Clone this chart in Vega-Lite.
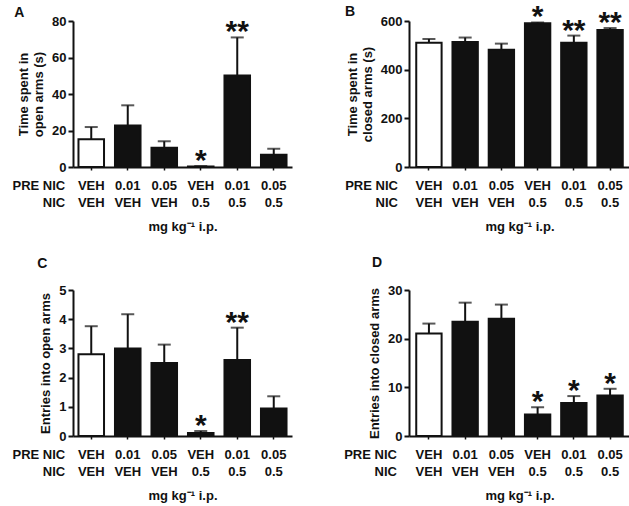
{
  "$schema": "https://vega.github.io/schema/vega-lite/v6.json",
  "padding": {"left": 12, "top": 2, "right": 0, "bottom": 0},
  "background": "white",
  "bounds": "flush",
  "config": {
    "font": "Liberation Sans",
    "view": {"stroke": null},
    "axis": {"labelFont": "Liberation Sans", "labelFontWeight": "bold", "labelFontSize": 13, "labelColor": "#111", "titleFont": "Liberation Sans", "titleFontWeight": "bold", "titleFontSize": 13, "titleColor": "#111", "domainColor": "#111", "domainWidth": 2, "tickColor": "#111", "tickWidth": 2, "grid": false, "labelOverlap": false},
    "axisX": {"labelAngle": 0, "tickSize": 3, "tickWidth": 1.5, "labelPadding": 9.5, "labelLineHeight": 17.4, "titlePadding": 11, "labelBaseline": "top"},
    "axisY": {"tickSize": 5, "labelPadding": 2, "titlePadding": 6, "titleLineHeight": 15, "labelOverlap": false},
    "text": {"font": "Liberation Sans", "fontWeight": "bold", "color": "#111"}
  },
  "datasets": {
    "A": [
      {"cat": "VEH|VEH", "g": "veh", "mean": 15.2, "upper": 21.9, "star": ""},
      {"cat": "0.01|VEH", "g": "drug", "mean": 22.8, "upper": 33.8, "star": ""},
      {"cat": "0.05|VEH", "g": "drug", "mean": 10.6, "upper": 14.1, "star": ""},
      {"cat": "VEH|0.5", "g": "drug", "mean": 0.3, "upper": 0.5, "star": "*"},
      {"cat": "0.01|0.5", "g": "drug", "mean": 50.2, "upper": 71.0, "star": "**"},
      {"cat": "0.05|0.5", "g": "drug", "mean": 6.7, "upper": 10.0, "star": ""}
    ],
    "B": [
      {"cat": "VEH|VEH", "g": "veh", "mean": 511, "upper": 526, "star": ""},
      {"cat": "0.01|VEH", "g": "drug", "mean": 514, "upper": 532, "star": ""},
      {"cat": "0.05|VEH", "g": "drug", "mean": 482, "upper": 507, "star": ""},
      {"cat": "VEH|0.5", "g": "drug", "mean": 591, "upper": 594, "star": "*"},
      {"cat": "0.01|0.5", "g": "drug", "mean": 511, "upper": 540, "star": "**"},
      {"cat": "0.05|0.5", "g": "drug", "mean": 563, "upper": 571, "star": "**"}
    ],
    "C": [
      {"cat": "VEH|VEH", "g": "veh", "mean": 2.8, "upper": 3.76, "star": ""},
      {"cat": "0.01|VEH", "g": "drug", "mean": 3.0, "upper": 4.17, "star": ""},
      {"cat": "0.05|VEH", "g": "drug", "mean": 2.5, "upper": 3.13, "star": ""},
      {"cat": "VEH|0.5", "g": "drug", "mean": 0.1, "upper": 0.17, "star": "*"},
      {"cat": "0.01|0.5", "g": "drug", "mean": 2.6, "upper": 3.71, "star": "**"},
      {"cat": "0.05|0.5", "g": "drug", "mean": 0.94, "upper": 1.36, "star": ""}
    ],
    "D": [
      {"cat": "VEH|VEH", "g": "veh", "mean": 21.05, "upper": 23.1, "star": ""},
      {"cat": "0.01|VEH", "g": "drug", "mean": 23.5, "upper": 27.4, "star": ""},
      {"cat": "0.05|VEH", "g": "drug", "mean": 24.1, "upper": 27.0, "star": ""},
      {"cat": "VEH|0.5", "g": "drug", "mean": 4.4, "upper": 5.9, "star": "*"},
      {"cat": "0.01|0.5", "g": "drug", "mean": 6.8, "upper": 8.2, "star": "*"},
      {"cat": "0.05|0.5", "g": "drug", "mean": 8.3, "upper": 9.7, "star": "*"}
    ]
  },
  "columns": 2,
  "spacing": {"row": 123, "column": 117},
  "concat": [
    {
      "width": 219, "height": 146,
      "data": {"name": "A"},
      "encoding": {"x": {"field": "cat", "type": "nominal", "sort": null, "scale": {"paddingInner": 0.3, "paddingOuter": 0.15}, "axis": {"title": "mg kg⁻¹ i.p.", "labelExpr": "split(datum.label, '|')"}}},
      "layer": [
        {"mark": {"type": "rule", "strokeWidth": 2, "color": "#111"}, "encoding": {"y": {"field": "mean", "type": "quantitative", "scale": {"domain": [0, 80], "nice": false}, "axis": {"values": [0, 20, 40, 60, 80], "tickCount": 5, "labelOverlap": false, "title": ["Time spent in", "open arms (s)"]}}, "y2": {"field": "upper"}}},
        {"mark": {"type": "tick", "thickness": 2, "size": 13, "color": "#111"}, "encoding": {"y": {"field": "upper", "type": "quantitative", "axis": {"values": [0, 20, 40, 60, 80], "tickCount": 5, "labelOverlap": false, "title": ["Time spent in", "open arms (s)"]}}}},
        {"mark": {"type": "bar", "stroke": "#111", "strokeWidth": 2}, "encoding": {"y": {"field": "mean", "type": "quantitative", "axis": {"values": [0, 20, 40, 60, 80], "tickCount": 5, "labelOverlap": false, "title": ["Time spent in", "open arms (s)"]}}, "fill": {"field": "g", "type": "nominal", "scale": {"domain": ["veh", "drug"], "range": ["white", "#111"]}, "legend": null}}},
        {"mark": {"type": "text", "fontSize": 30, "baseline": "alphabetic", "dy": 4}, "encoding": {"y": {"field": "upper", "type": "quantitative", "axis": {"values": [0, 20, 40, 60, 80], "tickCount": 5, "labelOverlap": false, "title": ["Time spent in", "open arms (s)"]}}, "text": {"field": "star"}}},
        {"data": {"values": [{"cat": "VEH|VEH", "t": "PRE NIC|NIC"}]}, "mark": {"type": "text", "fontSize": 13, "align": "right", "baseline": "top", "lineBreak": "|", "lineHeight": 17.4, "dx": -26, "dy": 12.5}, "encoding": {"y": {"datum": 0, "axis": {"values": [0, 20, 40, 60, 80], "tickCount": 5, "labelOverlap": false, "title": ["Time spent in", "open arms (s)"]}}, "text": {"field": "t"}}},
        {"data": {"values": [{"cat": "VEH|VEH", "t": "A"}]}, "mark": {"type": "text", "fontSize": 14, "align": "left", "baseline": "alphabetic", "dx": -77, "dy": -4}, "encoding": {"y": {"datum": 80, "axis": {"values": [0, 20, 40, 60, 80], "tickCount": 5, "labelOverlap": false, "title": ["Time spent in", "open arms (s)"]}}, "text": {"field": "t"}}}
      ]
    },
    {
      "width": 221, "height": 146,
      "data": {"name": "B"},
      "encoding": {"x": {"field": "cat", "type": "nominal", "sort": null, "scale": {"paddingInner": 0.3, "paddingOuter": 0.2}, "axis": {"title": "mg kg⁻¹ i.p.", "labelExpr": "split(datum.label, '|')"}}},
      "layer": [
        {"mark": {"type": "rule", "strokeWidth": 2, "color": "#111"}, "encoding": {"y": {"field": "mean", "type": "quantitative", "scale": {"domain": [0, 600], "nice": false}, "axis": {"values": [0, 200, 400, 600], "labelOverlap": false, "title": ["Time spent in", "closed arms (s)"]}}, "y2": {"field": "upper"}}},
        {"mark": {"type": "tick", "thickness": 2, "size": 13, "color": "#111"}, "encoding": {"y": {"field": "upper", "type": "quantitative", "axis": {"values": [0, 200, 400, 600], "labelOverlap": false, "title": ["Time spent in", "closed arms (s)"]}}}},
        {"mark": {"type": "bar", "stroke": "#111", "strokeWidth": 2}, "encoding": {"y": {"field": "mean", "type": "quantitative", "axis": {"values": [0, 200, 400, 600], "labelOverlap": false, "title": ["Time spent in", "closed arms (s)"]}}, "fill": {"field": "g", "type": "nominal", "scale": {"domain": ["veh", "drug"], "range": ["white", "#111"]}, "legend": null}}},
        {"mark": {"type": "text", "fontSize": 30, "baseline": "alphabetic", "dy": 4}, "encoding": {"y": {"field": "upper", "type": "quantitative", "axis": {"values": [0, 200, 400, 600], "labelOverlap": false, "title": ["Time spent in", "closed arms (s)"]}}, "text": {"field": "star"}}},
        {"data": {"values": [{"cat": "VEH|VEH", "t": "PRE NIC|NIC"}]}, "mark": {"type": "text", "fontSize": 13, "align": "right", "baseline": "top", "lineBreak": "|", "lineHeight": 17.4, "dx": -31, "dy": 12.5}, "encoding": {"y": {"datum": 0, "axis": {"values": [0, 200, 400, 600], "labelOverlap": false, "title": ["Time spent in", "closed arms (s)"]}}, "text": {"field": "t"}}},
        {"data": {"values": [{"cat": "VEH|VEH", "t": "B"}]}, "mark": {"type": "text", "fontSize": 14, "align": "left", "baseline": "alphabetic", "dx": -84, "dy": -4.7}, "encoding": {"y": {"datum": 600, "axis": {"values": [0, 200, 400, 600], "labelOverlap": false, "title": ["Time spent in", "closed arms (s)"]}}, "text": {"field": "t"}}}
      ]
    },
    {
      "width": 219, "height": 146,
      "data": {"name": "C"},
      "encoding": {"x": {"field": "cat", "type": "nominal", "sort": null, "scale": {"paddingInner": 0.3, "paddingOuter": 0.15}, "axis": {"title": "mg kg⁻¹ i.p.", "labelExpr": "split(datum.label, '|')"}}},
      "layer": [
        {"mark": {"type": "rule", "strokeWidth": 2, "color": "#111"}, "encoding": {"y": {"field": "mean", "type": "quantitative", "scale": {"domain": [0, 5], "nice": false}, "axis": {"values": [0, 1, 2, 3, 4, 5], "tickCount": 6, "labelOverlap": false, "title": "Entries into open arms"}}, "y2": {"field": "upper"}}},
        {"mark": {"type": "tick", "thickness": 2, "size": 13, "color": "#111"}, "encoding": {"y": {"field": "upper", "type": "quantitative", "axis": {"values": [0, 1, 2, 3, 4, 5], "tickCount": 6, "labelOverlap": false, "title": "Entries into open arms"}}}},
        {"mark": {"type": "bar", "stroke": "#111", "strokeWidth": 2}, "encoding": {"y": {"field": "mean", "type": "quantitative", "axis": {"values": [0, 1, 2, 3, 4, 5], "tickCount": 6, "labelOverlap": false, "title": "Entries into open arms"}}, "fill": {"field": "g", "type": "nominal", "scale": {"domain": ["veh", "drug"], "range": ["white", "#111"]}, "legend": null}}},
        {"mark": {"type": "text", "fontSize": 30, "baseline": "alphabetic", "dy": 4}, "encoding": {"y": {"field": "upper", "type": "quantitative", "axis": {"values": [0, 1, 2, 3, 4, 5], "tickCount": 6, "labelOverlap": false, "title": "Entries into open arms"}}, "text": {"field": "star"}}},
        {"data": {"values": [{"cat": "VEH|VEH", "t": "PRE NIC|NIC"}]}, "mark": {"type": "text", "fontSize": 13, "align": "right", "baseline": "top", "lineBreak": "|", "lineHeight": 17.4, "dx": -26, "dy": 12.5}, "encoding": {"y": {"datum": 0, "axis": {"values": [0, 1, 2, 3, 4, 5], "tickCount": 6, "labelOverlap": false, "title": "Entries into open arms"}}, "text": {"field": "t"}}},
        {"data": {"values": [{"cat": "VEH|VEH", "t": "C"}]}, "mark": {"type": "text", "fontSize": 14, "align": "left", "baseline": "alphabetic", "dx": -54, "dy": -22}, "encoding": {"y": {"datum": 5, "axis": {"values": [0, 1, 2, 3, 4, 5], "tickCount": 6, "labelOverlap": false, "title": "Entries into open arms"}}, "text": {"field": "t"}}}
      ]
    },
    {
      "width": 221, "height": 146,
      "data": {"name": "D"},
      "encoding": {"x": {"field": "cat", "type": "nominal", "sort": null, "scale": {"paddingInner": 0.3, "paddingOuter": 0.2}, "axis": {"title": "mg kg⁻¹ i.p.", "labelExpr": "split(datum.label, '|')"}}},
      "layer": [
        {"mark": {"type": "rule", "strokeWidth": 2, "color": "#111"}, "encoding": {"y": {"field": "mean", "type": "quantitative", "scale": {"domain": [0, 30], "nice": false}, "axis": {"values": [0, 10, 20, 30], "labelOverlap": false, "title": "Entries into closed arms"}}, "y2": {"field": "upper"}}},
        {"mark": {"type": "tick", "thickness": 2, "size": 13, "color": "#111"}, "encoding": {"y": {"field": "upper", "type": "quantitative", "axis": {"values": [0, 10, 20, 30], "labelOverlap": false, "title": "Entries into closed arms"}}}},
        {"mark": {"type": "bar", "stroke": "#111", "strokeWidth": 2}, "encoding": {"y": {"field": "mean", "type": "quantitative", "axis": {"values": [0, 10, 20, 30], "labelOverlap": false, "title": "Entries into closed arms"}}, "fill": {"field": "g", "type": "nominal", "scale": {"domain": ["veh", "drug"], "range": ["white", "#111"]}, "legend": null}}},
        {"mark": {"type": "text", "fontSize": 30, "baseline": "alphabetic", "dy": 4}, "encoding": {"y": {"field": "upper", "type": "quantitative", "axis": {"values": [0, 10, 20, 30], "labelOverlap": false, "title": "Entries into closed arms"}}, "text": {"field": "star"}}},
        {"data": {"values": [{"cat": "VEH|VEH", "t": "PRE NIC|NIC"}]}, "mark": {"type": "text", "fontSize": 13, "align": "right", "baseline": "top", "lineBreak": "|", "lineHeight": 17.4, "dx": -32, "dy": 12.5}, "encoding": {"y": {"datum": 0, "axis": {"values": [0, 10, 20, 30], "labelOverlap": false, "title": "Entries into closed arms"}}, "text": {"field": "t"}}},
        {"data": {"values": [{"cat": "VEH|VEH", "t": "D"}]}, "mark": {"type": "text", "fontSize": 14, "align": "left", "baseline": "alphabetic", "dx": -57, "dy": -23}, "encoding": {"y": {"datum": 30, "axis": {"values": [0, 10, 20, 30], "labelOverlap": false, "title": "Entries into closed arms"}}, "text": {"field": "t"}}}
      ]
    }
  ]
}
